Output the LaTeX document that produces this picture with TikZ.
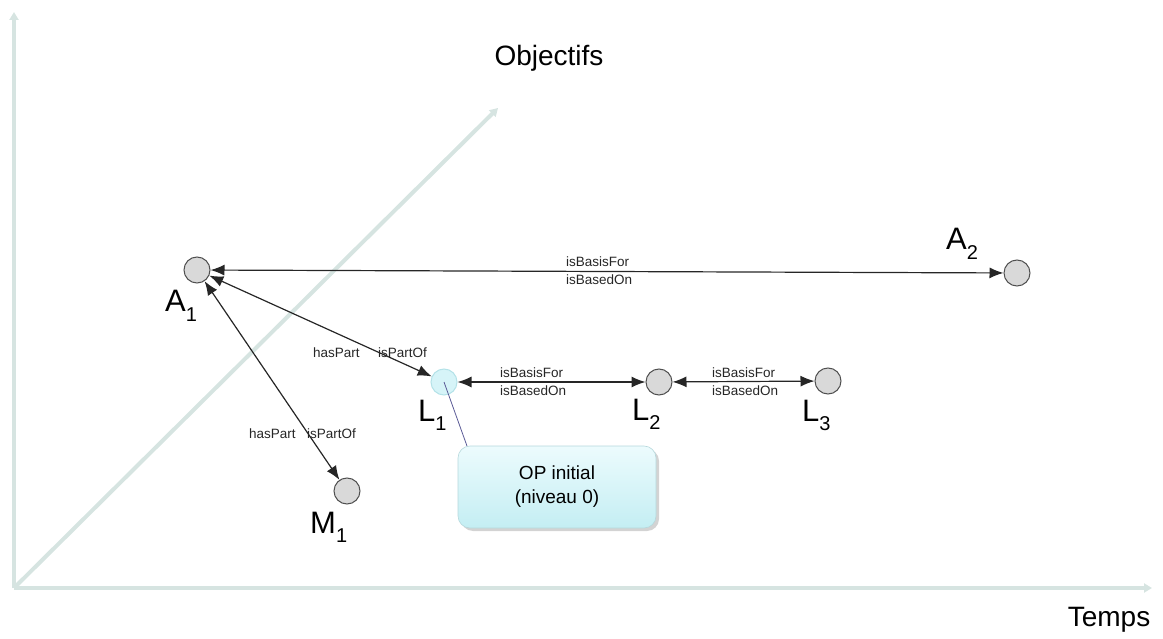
\documentclass[tikz,border=0pt]{standalone}
\usepackage{fontspec}
\setmainfont{Liberation Sans}
\usetikzlibrary{arrows.meta,shadows,calc}
\definecolor{axiscol}{RGB}{214,228,225}
\definecolor{nodefill}{RGB}{217,217,217}
\definecolor{nodeline}{RGB}{80,80,80}
\definecolor{lonefill}{RGB}{214,244,248}
\definecolor{loneline}{RGB}{180,226,232}
\definecolor{boxtop}{RGB}{236,251,253}
\definecolor{boxbot}{RGB}{196,238,243}
\definecolor{pointer}{RGB}{90,90,150}
\tikzset{
  axisline/.style={draw=axiscol,line width=4pt,-{Triangle[length=8pt,width=9pt]}},
  entity/.style={circle,draw=nodeline,fill=nodefill,line width=1pt,minimum size=26pt,inner sep=0pt},
  lentity/.style={circle,draw=loneline,fill=lonefill,line width=1pt,minimum size=26pt,inner sep=0pt},
  rel/.style={draw=black!85,line width=1.2pt,{Latex[length=14pt,width=11pt]}-{Latex[length=14pt,width=11pt]}},
  small/.style={font=\fontsize{13.5}{15}\selectfont,inner sep=0pt,text=black!85},
  big/.style={font=\fontsize{31}{32}\selectfont,inner sep=0pt,anchor=base west},
  axlabel/.style={font=\fontsize{28}{30}\selectfont,inner sep=0pt},
  callout/.style={rounded corners=12pt,draw=boxbot!80!gray,line width=0.6pt,top color=boxtop,bottom color=boxbot,
    drop shadow={shadow xshift=3pt,shadow yshift=-3pt,opacity=0.35},
    minimum width=198pt,minimum height=82pt,align=center,font=\fontsize{19}{24}\selectfont},
}
\newcommand{\sublab}[2]{#1\raisebox{-0.3em}{\fontsize{20}{20}\selectfont #2}}
\begin{document}
\begin{tikzpicture}[x=1pt,y=-1pt]
\useasboundingbox (0,0) rectangle (1163,639);
% axes
\coordinate (O) at (14,588);
\coordinate (ytop) at (14,12);
\coordinate (xend) at (1152,588);
\coordinate (dend) at (498,108);
\draw[axisline] (O) -- (ytop);
\draw[axisline] (O) -- (xend);
\draw[axisline] (O) -- (dend);
\node[axlabel] (obj) at (549,58) {Objectifs};
\node[axlabel] (temps) at (1109,620) {Temps};
% entities
\node[entity] (A1) at (197,270) {};
\node[entity] (A2) at (1017,273) {};
\node[lentity] (L1) at (444,382) {};
\node[entity] (L2) at (659,382) {};
\node[entity] (L3) at (828,381) {};
\node[entity] (M1) at (347,491) {};
% labels
\node[big] (lA1) at (165,312) {\sublab{A}{1}};
\node[big] (lA2) at (946,250) {\sublab{A}{2}};
\node[big] (lL1) at (418,421) {\sublab{L}{1}};
\node[big] (lL2) at (632,420) {\sublab{L}{2}};
\node[big] (lL3) at (802,421) {\sublab{L}{3}};
\node[big] (lM1) at (310,533) {\sublab{M}{1}};
% relations
\draw[rel] (A1) -- (A2);
\draw[rel] (A1) -- (L1);
\draw[rel] (A1) -- (M1);
\draw[rel] (L1) -- (L2);
\draw[rel] (L2) -- (L3);
% relation labels
\node[small,anchor=west] (t1) at (566,262) {isBasisFor};
\node[small,anchor=west] (t2) at (566,280) {isBasedOn};
\node[small,anchor=west] (t3) at (313,353) {hasPart};
\node[small,anchor=west] (t4) at (378,353) {isPartOf};
\node[small,anchor=west] (t5) at (249,434) {hasPart};
\node[small,anchor=west] (t6) at (307,434) {isPartOf};
\node[small,anchor=west] (t7) at (500,373) {isBasisFor};
\node[small,anchor=west] (t8) at (500,391) {isBasedOn};
\node[small,anchor=west] (t9) at (712,373) {isBasisFor};
\node[small,anchor=west] (t10) at (712,391) {isBasedOn};
% callout
\node[callout] (box) at (557,487) {OP initial\\(niveau 0)};
\coordinate (ptr) at (467,446);
\draw[pointer,line width=0.8pt] (L1.center) -- (ptr);
\end{tikzpicture}
\end{document}
